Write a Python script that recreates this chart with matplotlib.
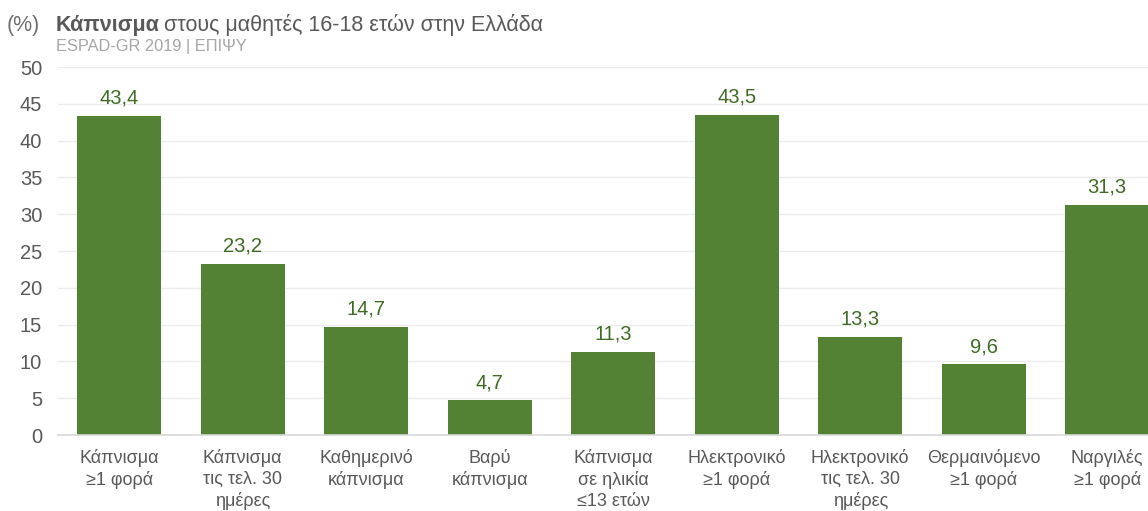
import matplotlib
matplotlib.use("Agg")
import matplotlib.pyplot as plt

categories = ["Κάπνισμα\n≥1 φορά", "Κάπνισμα\nτις τελ. 30\nημέρες", "Καθημερινό\nκάπνισμα",
              "Βαρύ\nκάπνισμα", "Κάπνισμα\nσε ηλικία\n≤13 ετών", "Ηλεκτρονικό\n≥1 φορά",
              "Ηλεκτρονικό\nτις τελ. 30\nημέρες", "Θερμαινόμενο\n≥1 φορά", "Ναργιλές\n≥1 φορά"]
values = [43.4, 23.2, 14.7, 4.7, 11.3, 43.5, 13.3, 9.6, 31.3]
value_labels = ["43,4", "23,2", "14,7", "4,7", "11,3", "43,5", "13,3", "9,6", "31,3"]
yticks = [0, 5, 10, 15, 20, 25, 30, 35, 40, 45, 50]

plt.rcParams['font.family'] = ['Liberation Sans', 'DejaVu Sans']

W, H = 1148, 511
fig = plt.figure(figsize=(W / 100, H / 100), dpi=100)
left_px, right_px = 57.5, 1169
bottom_px, top_px = 435, 67
ax = fig.add_axes([left_px / W, (H - bottom_px) / H, (right_px - left_px) / W, (bottom_px - top_px) / H])

x = list(range(len(categories)))
ax.bar(x, values, width=0.68, color="#548235", zorder=2)
for xi, v, lab in zip(x, values, value_labels):
    ax.annotate(lab, (xi, v), xytext=(0, 6), textcoords="offset points",
                ha="center", va="bottom", fontsize=14.5, color="#3f6b25")

ax.set_xlim(-0.5, len(categories) - 0.5)
ax.set_ylim(0, 50)
ax.set_yticks(yticks)
ax.set_yticklabels([str(t) for t in yticks])
ax.yaxis.grid(True, color="#ececec", linewidth=1, zorder=0)
ax.set_axisbelow(True)
for s in ["top", "right", "left"]:
    ax.spines[s].set_visible(False)
ax.spines["bottom"].set_color("#d9d9d9")
ax.spines["bottom"].set_linewidth(1.2)
ax.tick_params(axis="y", length=0, pad=11, labelsize=14.5, labelcolor="#595959")
ax.tick_params(axis="x", length=0, pad=10, labelsize=13, labelcolor="#595959")
ax.set_xticks(x)
ax.set_xticklabels(categories, linespacing=1.30)

title_y = 1 - 31 / H
fig.text(7 / W, title_y, "(%)", fontsize=15.5, color="#6f6f6f", ha="left", va="baseline")
t1 = fig.text(56 / W, title_y, "Κάπνισμα", fontsize=15.5, color="#595959", fontweight="bold",
              ha="left", va="baseline")
fig.canvas.draw()
bb = t1.get_window_extent(renderer=fig.canvas.get_renderer())
fig.text((bb.x1 + 4) / W, title_y, "στους μαθητές 16-18 ετών στην Ελλάδα", fontsize=15.5, color="#595959",
         ha="left", va="baseline")
fig.text(56 / W, 1 - 51 / H, "ESPAD-GR 2019 | ΕΠΙΨΥ", fontsize=11.8, color="#a6a6a6",
         ha="left", va="baseline")

fig.savefig("out.png", dpi=100)
